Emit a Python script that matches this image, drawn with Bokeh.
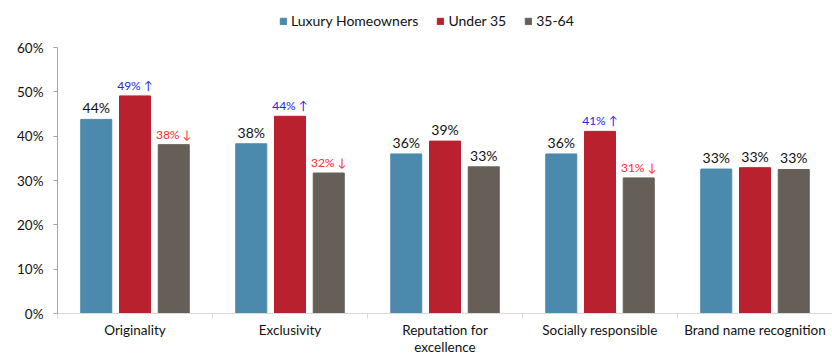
from bokeh.plotting import figure
from bokeh.models import (ColumnDataSource, Range1d, FixedTicker, PrintfTickFormatter,
                          Legend, LegendItem)
from bokeh.embed import file_html
from bokeh.resources import INLINE
from bokeh.core.properties import value

categories = ["Originality", "Exclusivity", "Reputation for\nexcellence",
              "Socially responsible", "Brand name recognition"]
series_names = ["Luxury Homeowners", "Under 35", "35-64"]
lux = [43.8, 38.3, 36.0, 36.0, 32.6]
under35 = [49.1, 44.5, 38.9, 41.1, 32.9]
mid = [38.1, 31.7, 33.1, 30.6, 32.5]
lux_labels = ["44%", "38%", "36%", "36%", "33%"]
under35_labels = ["49% \u2191", "44% \u2191", "39%", "41% \u2191", "33%"]
mid_labels = ["38% \u2193", "32% \u2193", "33%", "31% \u2193", "33%"]
y_ticks = [0, 10, 20, 30, 40, 50, 60]

colors = ["#4b89ad", "#b8212d", "#655f58"]
UP = "#2424e6"
DOWN = "#ff2a2a"
FONT = "Lato"

def lab_color(t):
    if "\u2191" in t:
        return UP
    if "\u2193" in t:
        return DOWN
    return "#111111"

def lab_size(t):
    return "12px" if ("\u2191" in t or "\u2193" in t) else "14px"

p = figure(width=832, height=358, output_backend="svg", toolbar_location=None,
           x_range=Range1d(0, 5), y_range=Range1d(0, 70.63),
           min_border_left=57, min_border_right=0, min_border_top=0,
           min_border_bottom=45)
p.outline_line_color = None
p.grid.grid_line_color = None
p.background_fill_color = "white"

offsets = [-0.25, 0.0, 0.25]
all_vals = [lux, under35, mid]
all_labels = [lux_labels, under35_labels, mid_labels]
items = []
for k in range(3):
    xs = [i + 0.5 + offsets[k] for i in range(len(categories))]
    src = ColumnDataSource(dict(x=xs, top=all_vals[k], label=all_labels[k],
                                color=[lab_color(t) for t in all_labels[k]],
                                size=[lab_size(t) for t in all_labels[k]]))
    r = p.vbar(x="x", top="top", width=0.2, bottom=0, source=src,
               fill_color=colors[k], line_color=colors[k], line_width=1)
    p.text(x="x", y="top", text="label", source=src, text_align="center",
           text_baseline="bottom", y_offset=-3, text_color="color",
           text_font_size="size", text_font=value(FONT))
    items.append(LegendItem(label=series_names[k], renderers=[r]))

legend = Legend(items=items, orientation="horizontal", location=(222, 284),
                glyph_width=8, glyph_height=8, label_standoff=4, spacing=18,
                padding=0, margin=0, border_line_color=None,
                background_fill_alpha=0, label_text_font=FONT,
                label_text_font_size="14px", label_text_color="#111111",
                label_height=14)
p.add_layout(legend, "center")

# y axis
ya = p.yaxis[0]
ya.ticker = FixedTicker(ticks=y_ticks, minor_ticks=[])
ya.formatter = PrintfTickFormatter(format="%d%%")
ya.bounds = (0, 60)
ya.axis_line_color = "#a6a6a6"
ya.major_tick_line_color = "#a6a6a6"
ya.major_tick_out = 4
ya.major_tick_in = 0
ya.minor_tick_line_color = None
ya.major_label_standoff = 10
ya.major_label_text_font = FONT
ya.major_label_text_font_size = "13.5px"
ya.major_label_text_color = "#111111"

# x axis
xa = p.xaxis[0]
centers = [i + 0.5 for i in range(len(categories))]
xa.ticker = FixedTicker(ticks=centers, minor_ticks=[0, 1, 2, 3, 4, 5])
xa.major_label_overrides = {c: t for c, t in zip(centers, categories)}
xa.axis_line_color = "#d9d9d9"
xa.major_tick_line_color = None
xa.major_tick_out = 0
xa.major_tick_in = 0
xa.minor_tick_line_color = "#d9d9d9"
xa.minor_tick_out = 5
xa.minor_tick_in = 0
xa.major_label_standoff = 3
xa.major_label_text_font = FONT
xa.major_label_text_font_size = "13.5px"
xa.major_label_text_line_height = 1.1
xa.major_label_text_color = "#111111"

open("out.html", "w").write(file_html(p, INLINE))
